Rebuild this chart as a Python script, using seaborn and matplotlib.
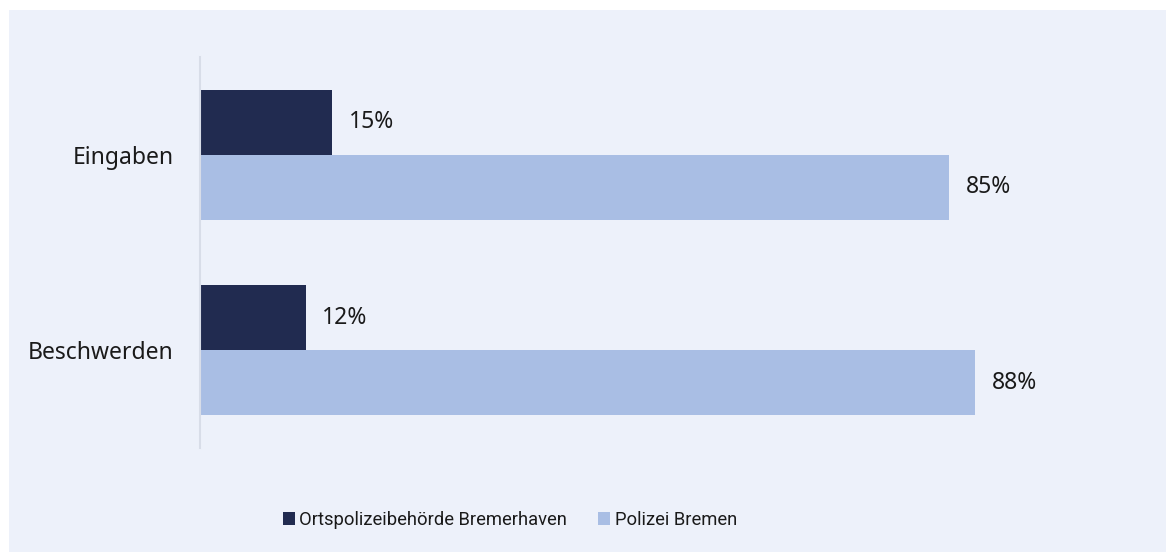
import matplotlib
matplotlib.use("Agg")
import matplotlib.pyplot as plt
from matplotlib.patches import Rectangle
import seaborn as sns
import pandas as pd

categories = ["Eingaben", "Beschwerden"]
series_names = ["Ortspolizeibehörde Bremerhaven", "Polizei Bremen"]
bremerhaven = [15, 12]
bremen = [85, 88]

BG = "#EDF1FA"
colors = ["#212B50", "#A9BEE4"]

rows = []
for i, c in enumerate(categories):
    rows.append({"Kategorie": c, "Behörde": series_names[0], "Anteil": bremerhaven[i]})
    rows.append({"Kategorie": c, "Behörde": series_names[1], "Anteil": bremen[i]})
df = pd.DataFrame(rows)

sns.set_theme(style="white")
plt.rcParams["font.family"] = ["Noto Sans", "DejaVu Sans"]

W, H = 1166, 552
fig = plt.figure(figsize=(W / 100, H / 100), dpi=100, facecolor="white")
fig.patches.append(Rectangle((9 / W, 0), 1, (H - 10) / H, transform=fig.transFigure,
                             facecolor=BG, edgecolor="none", zorder=-10))
ax = fig.add_axes([200 / W, 104 / H, 881 / W, 391 / H])
ax.set_facecolor(BG)

sns.barplot(data=df, y="Kategorie", x="Anteil", hue="Behörde", order=categories,
            hue_order=series_names, palette=colors, orient="h", width=2 / 3,
            saturation=1, ax=ax, legend=True, errorbar=None, linewidth=0)

ax.set_xlim(0, 100)
ax.set_ylim(1.5, -0.5)
ax.set_xlabel("")
ax.set_ylabel("")
ax.set_xticks([])
for s in ["top", "right", "bottom"]:
    ax.spines[s].set_visible(False)
ax.spines["left"].set_color("#D8DDE8")
ax.spines["left"].set_linewidth(1.5)
ax.tick_params(axis="y", length=0, pad=19, labelsize=16.5, labelcolor="#1A1A1A")

for cont in ax.containers:
    ax.bar_label(cont, fmt="%d%%", padding=12, fontsize=16.5, color="#1A1A1A")

ax.legend_.remove()
handles = [Rectangle((0, 0), 1, 1, facecolor=c, edgecolor="none") for c in colors]
fig.legend(handles, series_names, loc="center", bbox_to_anchor=(510 / W, 32 / H),
           ncol=2, frameon=False, prop={"family": ["Roboto", "DejaVu Sans"], "size": 13.2},
           handlelength=0.65, handleheight=0.65,
           handletextpad=0.25, columnspacing=1.7, labelcolor="#1A1A1A")

fig.savefig("out.png", dpi=100, facecolor="white")
